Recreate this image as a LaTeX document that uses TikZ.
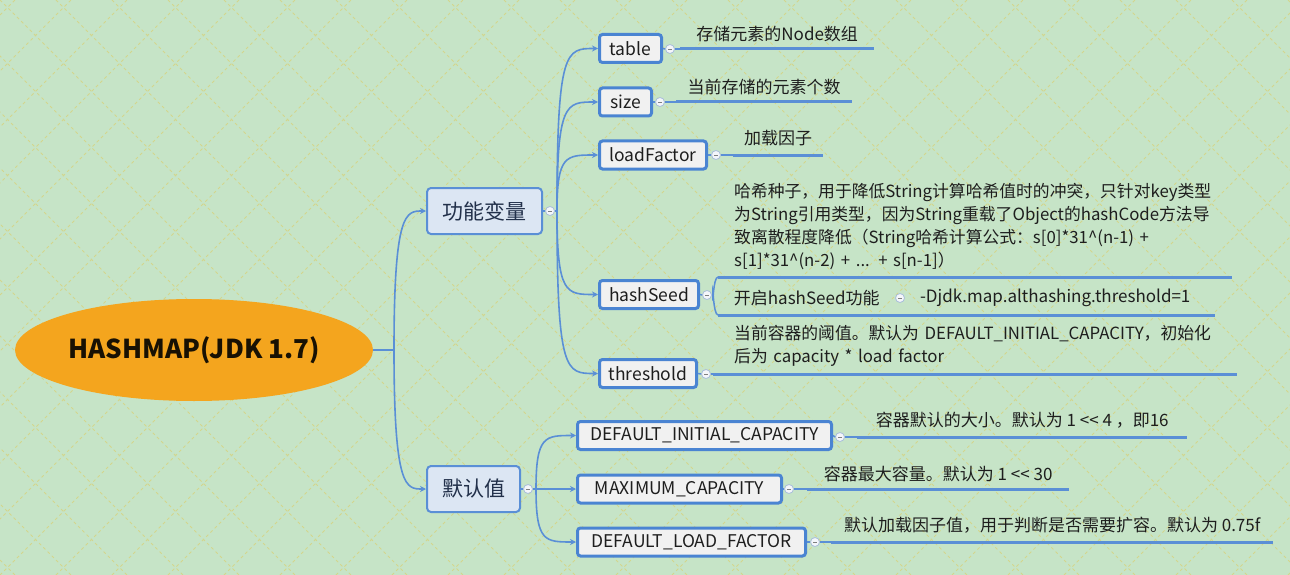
\documentclass[tikz,border=0pt]{standalone}
\usepackage{fontspec}
\newfontfamily\cjkf{Noto Sans CJK SC}
\usetikzlibrary{arrows.meta,shapes.geometric}
\definecolor{bgc}{HTML}{C6E4C7}
\definecolor{latc}{HTML}{D3D68C}
\definecolor{linec}{HTML}{5A8FD6}
\definecolor{boxb}{HTML}{4A84D2}
\definecolor{subf}{HTML}{F1F1F1}
\definecolor{topf}{HTML}{DCE6F3}
\definecolor{rootf}{HTML}{F4A51E}
\definecolor{txt}{HTML}{1E1E1E}
\definecolor{toptxt}{HTML}{22304A}
\definecolor{collb}{HTML}{A9BEDB}
\definecolor{collf}{HTML}{F4F6FA}
\begin{document}
\begin{tikzpicture}[x=1pt,y=-1pt,
  every node/.style={font=\cjkf, text=txt},
  rootnode/.style={ellipse, fill=rootf, minimum width=358pt, minimum height=102pt, inner sep=0pt,
    text=black!90!rootf, font=\cjkf\bfseries\fontsize{26}{30}\selectfont},
  topic/.style={draw=linec, line width=2pt, fill=topf, rounded corners=4pt, inner xsep=4pt,
    minimum height=46pt, text=toptxt, font=\cjkf\fontsize{21}{25}\selectfont},
  sub/.style={draw=boxb, line width=3pt, fill=subf, rounded corners=3pt, inner xsep=4pt,
    minimum height=28pt, font=\cjkf\fontsize{17.5}{20}\selectfont},
  desc/.style={anchor=south west, inner sep=0pt, font=\cjkf\fontsize{17}{23}\selectfont, align=center},
  mdesc/.style={anchor=south west, inner ysep=0pt, font=\cjkf\fontsize{16.8}{23}\selectfont,
    align=left, text width=490pt},
  uline/.style={draw=linec, line width=3pt},
  conn/.style={draw=linec, line width=1.6pt, -{Stealth[length=6pt,width=6pt]}},
  link/.style={draw=linec, line width=1.5pt},
  coll/.style={circle, draw=collb, line width=0.8pt, fill=collf, minimum size=9pt, inner sep=0pt,
    path picture={\draw[gray, line width=0.9pt] ([xshift=-2pt]path picture bounding box.center) -- ([xshift=2pt]path picture bounding box.center);}},
  lat/.style={draw=latc, line width=0.8pt, dash pattern=on 3pt off 3pt}
]
\useasboundingbox (0,0) rectangle (1290,575);
\fill[bgc] (0,0) rectangle (1290,575);
\begin{scope}
  \clip (0,0) rectangle (1290,575);
  \foreach \c in {-616,-560,...,1900} {
    \draw[lat] (\c,0) -- (\c+575,575);
    \draw[lat] (\c,575) -- (\c+575,0);
  }
\end{scope}

% root
\node[rootnode] (root) at (194,350) {HASHMAP(JDK 1.7)};

% topics
\node[topic, minimum width=115pt] (t1) at (484.5,211) {功能变量};
\node[topic, minimum width=93pt] (t2) at (473.5,489) {默认值};

% sub topics
\node[sub, minimum width=62pt] (sTable) at (630.5,48.5) {table};
\node[sub, minimum width=52pt] (sSize) at (625.5,102) {size};
\node[sub, minimum width=107pt] (sLoad) at (653,155) {loadFactor};
\node[sub, minimum width=99pt] (sHash) at (649,294.5) {hashSeed};
\node[sub, minimum width=97pt] (sThr) at (648,373.5) {threshold};
\node[sub, minimum width=254pt] (sDic) at (704.5,435.5) {DEFAULT\_INITIAL\_CAPACITY};
\node[sub, minimum width=204pt] (sMax) at (679.5,489) {MAXIMUM\_CAPACITY};
\node[sub, minimum width=228pt] (sDlf) at (691.5,542) {DEFAULT\_LOAD\_FACTOR};

% collapse markers
\node[coll] (c1) at (550,211) {};
\node[coll] (c2) at (528,489) {};
\node[coll] (cTable) at (670,49) {};
\node[coll] (cSize) at (660,102) {};
\node[coll] (cLoad) at (716,155) {};
\node[coll] (cHash) at (707,295) {};
\node[coll] (cThr) at (706,374) {};
\node[coll] (cDic) at (840,437) {};
\node[coll] (cMax) at (789,489) {};
\node[coll] (cDlf) at (815,542) {};

% descriptions
\node[desc, minimum width=194pt, minimum height=30pt] (dTable) at (680,49) {存储元素的Node数组};
\node[desc, minimum width=176pt, minimum height=30pt] (dSize) at (676,102) {当前存储的元素个数};
\node[desc, minimum width=90pt, minimum height=34pt] (dLoad) at (733,155) {加载因子};
\node[mdesc, inner xsep=16pt, minimum height=100pt] (dHash) at (718,277)
  {哈希种子，用于降低String计算哈希值时的冲突，只针对key类型\\
   为String引用类型，因为String重载了Object的hashCode方法导\\
   致离散程度降低（String哈希计算公式：s[0]*31\textasciicircum(n-1) +\\
   s[1]*31\textasciicircum(n-2) + ... + s[n-1]）};
\node[desc, minimum width=177pt, minimum height=34pt] (dKq) at (718,315) {开启hashSeed功能};
\node[desc, minimum width=320pt, minimum height=34pt] (dDj) at (895,315) {-Djdk.map.althashing.threshold=1};
\node[coll] (cKq) at (900,298) {};
\node[mdesc, inner xsep=21pt, minimum height=56pt] (dThr) at (713,374)
  {当前容器的阈值。默认为 DEFAULT\_INITIAL\_CAPACITY，初始化\\
   后为 capacity * load factor};
\node[desc, minimum width=330pt, minimum height=34pt] (dDic) at (857,437) {容器默认的大小。默认为 1 << 4 ，即16};
\node[desc, minimum width=262pt, minimum height=30pt] (dMax) at (807,489) {容器最大容量。默认为 1 << 30};
\node[desc, minimum width=442pt, minimum height=34pt] (dDlf) at (831,542) {默认加载因子值，用于判断是否需要扩容。默认为 0.75f};

% underlines
\foreach \d in {dTable,dSize,dLoad,dKq,dDj,dDic,dMax,dDlf}
  \draw[uline] (\d.south west) -- (\d.south east);
\draw[uline] (dHash.south west) -- ([xshift=-8pt]dHash.south east);
\draw[uline] (dThr.south west) -- ([xshift=-8pt]dThr.south east);

% root connectors
\coordinate (j0) at (394,350);
\draw[link] (root.east) -- (j0);
\draw[conn] (j0) .. controls (j0 |- t1.west) and ([xshift=-20pt]t1.west) .. (t1.west);
\draw[conn] (j0) .. controls (j0 |- t2.west) and ([xshift=-20pt]t2.west) .. (t2.west);

% topic 1 connectors
\coordinate (j1) at (557,211);
\draw[link] (t1.east) -- (c1.west);
\draw[link] (c1.east) -- (j1);
\foreach \s in {sTable,sSize,sLoad,sHash,sThr}
  \draw[conn] (j1) .. controls (j1 |- \s.west) and ([xshift=-32pt]\s.west) .. (\s.west);

% topic 2 connectors
\coordinate (j2) at (536,489);
\draw[link] (t2.east) -- (c2.west);
\draw[link] (c2.east) -- (j2);
\foreach \s in {sDic,sMax,sDlf}
  \draw[conn] (j2) .. controls (j2 |- \s.west) and ([xshift=-31pt]\s.west) .. (\s.west);

% sub -> collapse -> description
\foreach \s/\c/\d in {sTable/cTable/dTable, sSize/cSize/dSize, sLoad/cLoad/dLoad, sThr/cThr/dThr,
                      sDic/cDic/dDic, sMax/cMax/dMax, sDlf/cDlf/dDlf} {
  \draw[link] (\s.east) -- (\c.west);
  \draw[link] (\c.east) -- (\d.south west);
}
% hashSeed bracket
\draw[link] (sHash.east) -- (cHash.west);
\coordinate (hb) at ([xshift=1pt]cHash.east);
\draw[link] (cHash.east) -- (hb);
\draw[link] (hb) .. controls ([yshift=-14pt]hb) and ([xshift=-5pt]dHash.south west) .. (dHash.south west);
\draw[link] (hb) .. controls ([yshift=14pt]hb) and ([xshift=-5pt]dKq.south west) .. (dKq.south west);
\end{tikzpicture}
\end{document}
